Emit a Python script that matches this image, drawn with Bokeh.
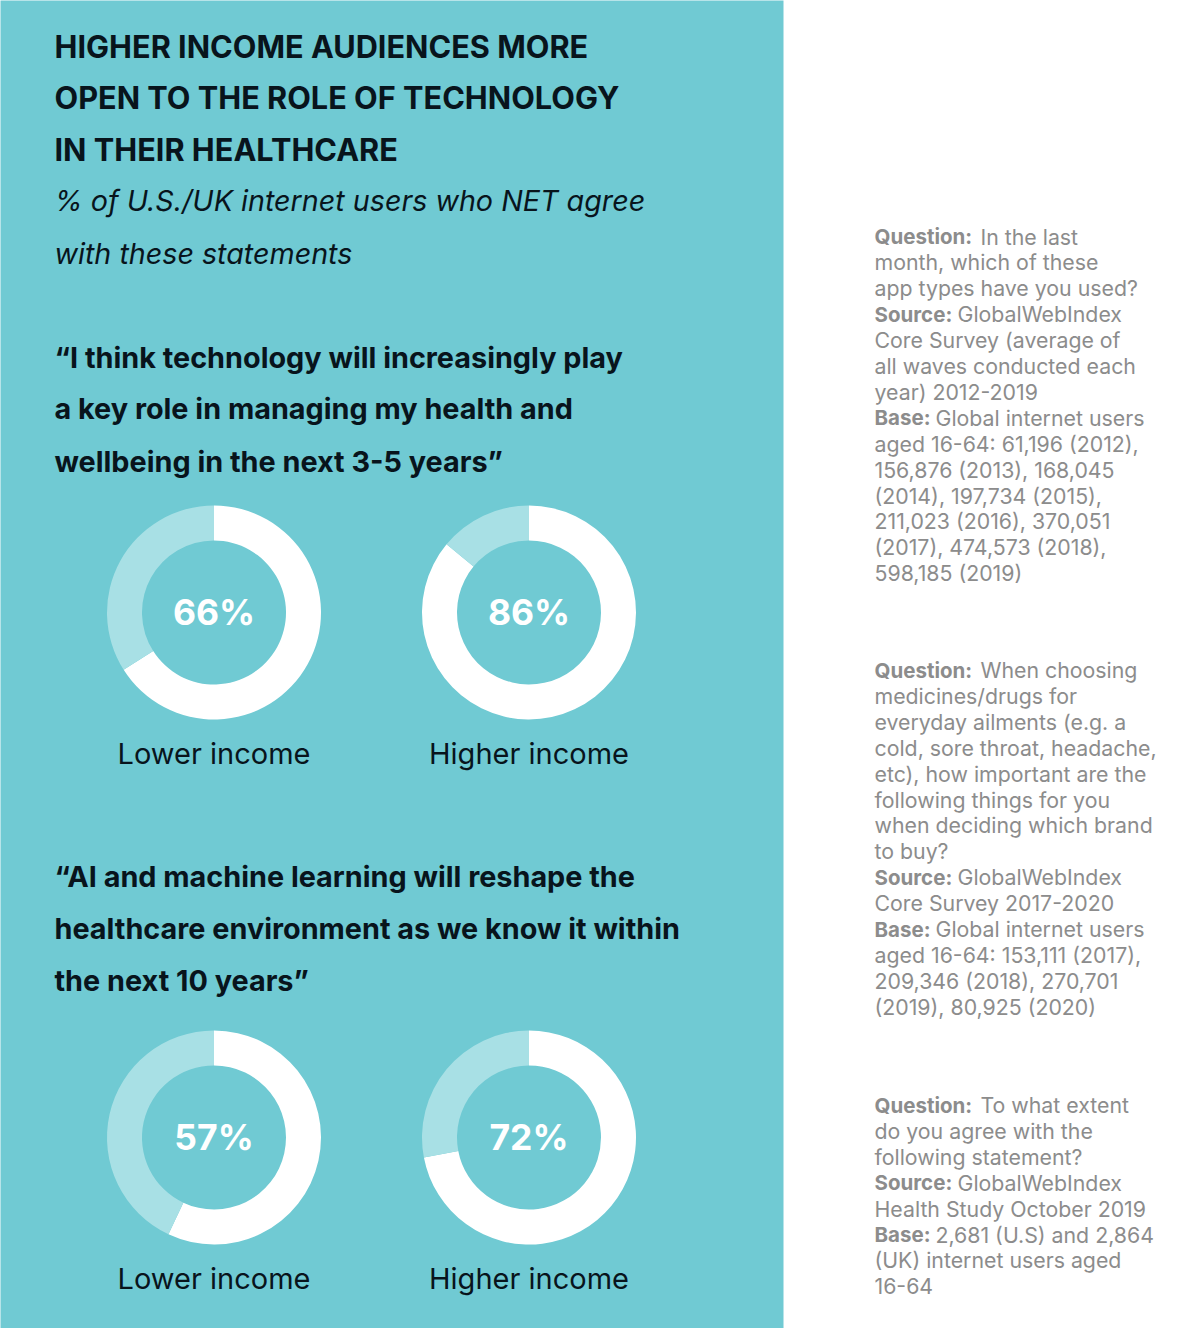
from math import pi
from bokeh.plotting import figure
from bokeh.models import Range1d
from bokeh.core.properties import value
from bokeh.embed import file_html
from bokeh.resources import INLINE

# values
income_groups = ["Lower income", "Higher income"]
tech_values = [66, 86]
ai_values = [57, 72]

title_lines = ["HIGHER INCOME AUDIENCES MORE", "OPEN TO THE ROLE OF TECHNOLOGY", "IN THEIR HEALTHCARE"]
subtitle_lines = ["% of U.S./UK internet users who NET agree", "with these statements"]
quote_1 = ["\u201cI think technology will increasingly play", "a key role in managing my health and",
           "wellbeing in the next 3-5 years\u201d"]
quote_2 = ["\u201cAI and machine learning will reshape the", "healthcare environment as we know it within",
           "the next 10 years\u201d"]

# (bold label, rest of line)
note_1 = [("Question:", "In the last"), ("", "month, which of these"), ("", "app types have you used?"),
          ("Source:", "GlobalWebIndex"), ("", "Core Survey (average of"), ("", "all waves conducted each"),
          ("", "year) 2012-2019"), ("Base:", "Global internet users"), ("", "aged 16-64: 61,196 (2012),"),
          ("", "156,876 (2013), 168,045"), ("", "(2014), 197,734 (2015),"), ("", "211,023 (2016), 370,051"),
          ("", "(2017), 474,573 (2018),"), ("", "598,185 (2019)")]
note_2 = [("Question:", "When choosing"), ("", "medicines/drugs for"), ("", "everyday ailments (e.g. a"),
          ("", "cold, sore throat, headache,"), ("", "etc), how important are the"), ("", "following things for you"),
          ("", "when deciding which brand"), ("", "to buy?"), ("Source:", "GlobalWebIndex"),
          ("", "Core Survey 2017-2020"), ("Base:", "Global internet users"), ("", "aged 16-64: 153,111 (2017),"),
          ("", "209,346 (2018), 270,701"), ("", "(2019), 80,925 (2020)")]
note_3 = [("Question:", "To what extent"), ("", "do you agree with the"), ("", "following statement?"),
          ("Source:", "GlobalWebIndex"), ("", "Health Study October 2019"), ("Base:", "2,681 (U.S) and 2,864"),
          ("", "(UK) internet users aged"), ("", "16-64")]

TEAL = "#70cad3"
PALE = "#a8e0e5"
DARK = "#08141c"
GREY = "#8c8c8c"
FONT = value("Inter")

# the figure uses page pixels: x as is, y negated
p = figure(width=1200, height=1328, x_range=Range1d(0, 1200), y_range=Range1d(-1328, 0),
           output_backend="svg", toolbar_location=None, min_border=0,
           x_axis_type=None, y_axis_type=None, outline_line_color=None)
p.grid.visible = False
p.background_fill_color = "white"
p.border_fill_color = "white"

p.quad(left=-5, right=783, bottom=-1335, top=5, fill_color=TEAL, line_color=None)


def put_text(x, y, txt, size, color=DARK, style="normal"):
    p.text(x=[x], y=[-y], text=[txt], text_font=FONT, text_font_size=size, text_color=color,
           text_font_style=style, text_align="left", text_baseline="middle")


def donut(cx, cy, val, group):
    a = pi / 2 - 2 * pi * val / 100
    p.annular_wedge(x=[cx], y=[-cy], inner_radius=72, outer_radius=107, start_angle=pi / 2, end_angle=a,
                    direction="clock", fill_color="white", line_color=None)
    p.annular_wedge(x=[cx], y=[-cy], inner_radius=72, outer_radius=107, start_angle=a, end_angle=pi / 2,
                    direction="clock", fill_color=PALE, line_color=None)
    p.text(x=[cx], y=[-cy], text=[str(val) + "%"], text_font=FONT, text_font_size="35.5px",
           text_font_style="bold", text_color="white", text_align="center", text_baseline="middle")
    p.text(x=[cx], y=[-(cy + 141)], text=[group], text_font=FONT, text_font_size="29px",
           text_color=DARK, text_align="center", text_baseline="middle")


for line, y in zip(title_lines, [45.5, 96.5, 148.5]):
    put_text(54, y, line, "30.7px", style="bold")
for line, y in zip(subtitle_lines, [200, 253]):
    put_text(54, y, line, "28.7px", style="italic")
for line, y in zip(quote_1, [356.5, 407.5, 460.5]):
    put_text(54, y, line, "28.8px", style="bold")
for line, y in zip(quote_2, [876, 927.5, 979.5]):
    put_text(54, y, line, "28.8px", style="bold")

for i, cx in enumerate([213.5, 528.5]):
    donut(cx, 612, tech_values[i], income_groups[i])
    donut(cx, 1137, ai_values[i], income_groups[i])

# bold label widths, so the regular text starts after them
label_w = {"Question:": 106, "Source:": 83, "Base:": 61}
for note, y0 in [(note_1, 236), (note_2, 669.5), (note_3, 1104.5)]:
    for n, (label, rest) in enumerate(note):
        y = y0 + n * 25.9
        if label:
            put_text(874, y, label, "20.5px", color=GREY, style="bold")
        put_text(874 + label_w.get(label, 0), y, rest, "21.3px", color=GREY)

open("out.html", "w").write(file_html(p, INLINE))
